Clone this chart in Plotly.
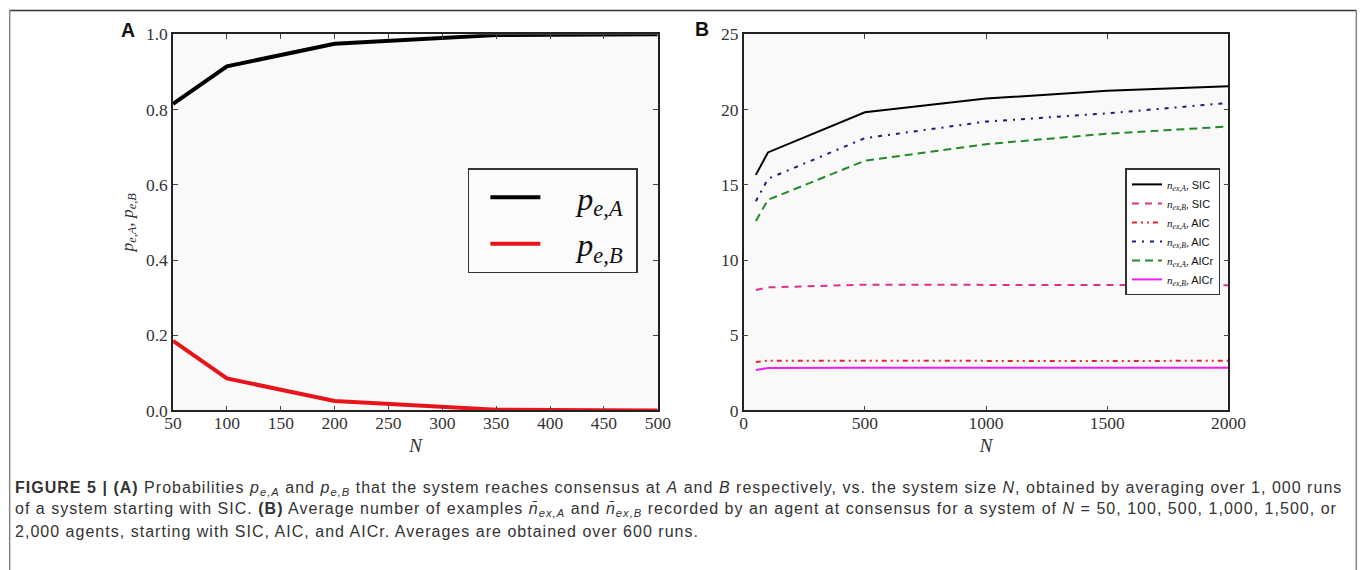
import plotly.graph_objects as go

# ---------------- data ----------------
N_A = [50, 100, 200, 300, 350, 400, 500]
p_eA = [0.815, 0.915, 0.975, 0.989, 0.998, 0.999, 1.0]
p_eB = [0.185, 0.085, 0.025, 0.011, 0.002, 0.001, 0.0]

N_B = [50, 100, 500, 1000, 1500, 2000]
nA_SIC = [15.66, 17.15, 19.82, 20.73, 21.25, 21.55]
nB_SIC = [8.0, 8.18, 8.36, 8.34, 8.3, 8.32]
nA_AIC = [3.22, 3.31, 3.3, 3.28, 3.29, 3.3]
nB_AIC = [13.9, 15.4, 18.1, 19.2, 19.75, 20.44]
nA_AICr = [12.6, 14.0, 16.6, 17.7, 18.4, 18.87]
nB_AICr = [2.69, 2.82, 2.83, 2.83, 2.82, 2.83]

# layout helpers: map target picture pixels to figure paper coordinates
MX, MY = 8, 10
AX, AY = 0.981, 0.9654
W, H = 1378, 582
def px(x):
    return (x / AX - MX) / W
def py(y):
    return 1 - (y / AY - MY) / H

serif = "Liberation Serif"
sans = "Liberation Sans"

fig = go.Figure()

# Panel A
fig.add_trace(go.Scatter(x=N_A, y=p_eA, mode="lines",
                         name="&nbsp;&nbsp;&nbsp;&nbsp;<i>p</i><sub><i>e,A</i></sub>&nbsp;",
                         line=dict(color="black", width=4), xaxis="x", yaxis="y",
                         legend="legend", legendgroup="a"))
fig.add_trace(go.Scatter(x=N_A, y=p_eB, mode="lines",
                         name="&nbsp;&nbsp;&nbsp;&nbsp;<i>p</i><sub><i>e,B</i></sub>&nbsp;",
                         line=dict(color="#e8141c", width=4), xaxis="x", yaxis="y",
                         legend="legend", legendgroup="b"))

# Panel B
def nlab(sub, tail):
    return ("<span style=\"font-family:'Liberation Serif'\"><i>n<sub>ex," + sub + "</sub></i>,</span> " + tail)

specB = [
    (nA_SIC, nlab("A", "SIC"), "black", "solid"),
    (nB_SIC, nlab("B", "SIC"), "#d9338a", "7px,6px"),
    (nA_AIC, nlab("A", "AIC"), "#e4262b", "5px,4px,2px,4px,2px,4px"),
    (nB_AIC, nlab("B", "AIC"), "#1c1c7a", "4px,6px,2px,6px"),
    (nA_AICr, nlab("A", "AICr"), "#24892a", "8px,5px"),
    (nB_AICr, nlab("B", "AICr"), "#f01cf0", "solid"),
]
for ys, name, col, dash in specB:
    fig.add_trace(go.Scatter(x=N_B, y=ys, mode="lines", name=name,
                             line=dict(color=col, width=2, dash=dash),
                             xaxis="x2", yaxis="y2", legend="legend2"))

axis_common = dict(showline=True, linecolor="#222", linewidth=1.5, mirror="ticks",
                   ticks="inside", ticklen=5, tickcolor="#444", showgrid=False, zeroline=False,
                   tickfont=dict(family=serif, size=17.5, color="#333"))
xtitle = dict(text="<i>N</i>", font=dict(family=serif, size=19.5, color="#333"), standoff=6)

yA0, yA1 = py(410), py(34)
fig.update_layout(
    width=W, height=H,
    margin=dict(l=0, r=0, t=0, b=0),
    paper_bgcolor="white",
    plot_bgcolor="#f9f9f9",
    showlegend=True,
    xaxis=dict(domain=[px(172), px(657)], range=[50, 500], dtick=50, anchor="y",
               ticklabelstandoff=-4, title=xtitle, **axis_common),
    yaxis=dict(domain=[yA0, yA1], range=[0, 1], dtick=0.2, tickformat=".1f", anchor="x",
               title=dict(text="<i>p<sub>e,A</sub></i>, <i>p<sub>e,B</sub></i>",
                          font=dict(family=serif, size=17.5, color="#333"), standoff=8),
               **axis_common),
    xaxis2=dict(domain=[px(743), px(1228)], range=[0, 2000], dtick=500, anchor="y2",
                ticklabelstandoff=-4, title=xtitle, **axis_common),
    yaxis2=dict(domain=[yA0, yA1], range=[0, 25], dtick=5, anchor="x2", **axis_common),
    legend=dict(x=px(467), y=py(168), xanchor="left", yanchor="top",
                bgcolor="#fbfbfb", bordercolor="#333", borderwidth=1.5, itemwidth=50,
                indentation=16,
                font=dict(family=serif, size=32, color="#111"), tracegroupgap=2),
    legend2=dict(x=px(1125), y=py(168), xanchor="left", yanchor="top",
                 bgcolor="white", bordercolor="#333", borderwidth=1.5,
                 font=dict(family=sans, size=11, color="#111"), tracegroupgap=0),
)

# panel labels
fig.add_annotation(x=px(127), y=py(30), xref="paper", yref="paper", text="<b>A</b>", showarrow=False,
                   xanchor="center", yanchor="middle",
                   font=dict(family=sans, size=19.5, color="#111"))
fig.add_annotation(x=px(701), y=py(29), xref="paper", yref="paper", text="<b>B</b>", showarrow=False,
                   xanchor="center", yanchor="middle",
                   font=dict(family=sans, size=19.5, color="#111"))

# caption
cap = [
    "<b>FIGURE 5 | (A)</b> Probabilities <i>p<sub>e,A</sub></i> and <i>p<sub>e,B</sub></i> that the system reaches consensus at <i>A</i> and <i>B</i> respectively, vs. the system size <i>N</i>, obtained by averaging over 1, 000 runs",
    "of a system starting with SIC. <b>(B)</b> Average number of examples <i>n̄<sub>ex,A</sub></i> and <i>n̄<sub>ex,B</sub></i> recorded by an agent at consensus for a system of <i>N</i> = 50, 100, 500, 1,000, 1,500, or",
    "2,000 agents, starting with SIC, AIC, and AICr. Averages are obtained over 600 runs.",
]
for i, t in enumerate(cap):
    fig.add_annotation(x=px(12), y=py(488 + 21.5 * i), xref="paper", yref="paper",
                       text="<span style='letter-spacing:1.02px'>" + t + "</span>",
                       showarrow=False, xanchor="left", yanchor="middle",
                       font=dict(family=sans, size=16, color="#333"))

# outer frame
fig.add_shape(type="line", xref="paper", yref="paper", x0=0, x1=px(1356), y0=0.999, y1=0.999,
              line=dict(color="#333", width=1.5))
fig.add_shape(type="line", xref="paper", yref="paper", x0=0.0005, x1=0.0005, y0=1, y1=0,
              line=dict(color="#888", width=1.5))
fig.add_shape(type="line", xref="paper", yref="paper", x0=px(1356), x1=px(1356), y0=1, y1=0,
              line=dict(color="#888", width=1.5))

fig.write_html("out.html")
